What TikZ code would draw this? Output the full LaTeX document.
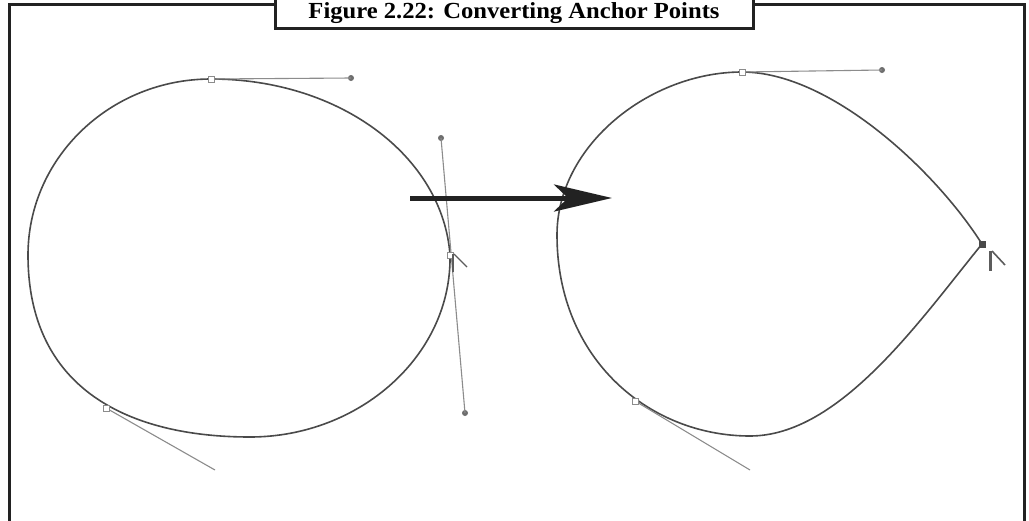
\documentclass[tikz,border=0pt]{standalone}
\usepackage{fontspec}
\setmainfont{Liberation Serif}
\newfontfamily\titlefont[FakeStretch=1.07]{Liberation Serif}
\usetikzlibrary{arrows.meta}
\definecolor{framec}{HTML}{222222}
\definecolor{curvec}{HTML}{4A4A4A}
\definecolor{handlec}{HTML}{8C8C8C}
\tikzset{
  framebox/.style={draw=framec, line width=3pt},
  curve/.style={draw=curvec, line width=1.6pt},
  handle/.style={draw=handlec, line width=1.1pt},
  anchorpt/.style={draw=handlec, fill=white, line width=0.9pt, minimum size=6pt, inner sep=0pt, rectangle},
  cornerpt/.style={draw=curvec, fill=curvec, minimum size=6pt, inner sep=0pt, rectangle},
  handledot/.style={fill=curvec!80, circle, minimum size=6pt, inner sep=0pt},
  cursor/.style={draw=curvec!90, line width=1.8pt},
  bigarrow/.style={draw=framec, line width=5pt, -{Stealth[length=58pt, width=27pt, inset=14pt]}}
}
\begin{document}
\begin{tikzpicture}[x=1pt, y=-1pt]
\clip (0,0) rectangle (1029,520);
\fill[white] (0,0) rectangle (1029,520);
% frame
\draw[framebox] (9,4) rectangle (1024,540);
\draw[framebox, fill=white] (275,-20) rectangle (753,28);
\node[font=\titlefont\bfseries\fontsize{23}{25}\selectfont, anchor=base, inner sep=0pt] (title) at (514,18.5) {Figure 2.22: Converting Anchor Points};

% left circle
\draw[curve] (28,255) .. controls (28,158) and (110,79) .. (211,79)
  .. controls (342,79) and (443,158) .. (450,255)
  .. controls (452,355) and (360,437) .. (250,437)
  .. controls (130,437) and (28,390) .. cycle;
% left anchors and handles
\node[handledot] (h1) at (351,78) {};
\node[handledot] (h2a) at (441,138) {};
\node[handledot] (h2b) at (465,413) {};
\coordinate (h3) at (215,470);
\draw[handle] (211,79) -- (h1.center);
\draw[handle] (h2a.center) -- (h2b.center);
\draw[handle] (106,408) -- (h3);
\node[anchorpt] (a1) at (211,79) {};
\node[anchorpt] (a2) at (450,255) {};
\node[anchorpt] (a3) at (106,408) {};
\draw[cursor] (453,254) -- (453,272);
\draw[cursor, line width=1.3pt] (454,254) -- (467,267);

% right teardrop
\draw[curve] (557,235) .. controls (557,145) and (650,72) .. (742,72)
  .. controls (830,72) and (935,170) .. (982,244)
  .. controls (920,320) and (840,436) .. (750,436)
  .. controls (650,436) and (557,360) .. cycle;
\node[handledot] (h4) at (882,70) {};
\coordinate (h5) at (750,470);
\draw[handle] (742,72) -- (h4.center);
\draw[handle] (635,401) -- (h5);
\node[anchorpt] (a4) at (742,72) {};
\node[anchorpt] (a5) at (635,401) {};
\node[cornerpt] (c1) at (982,244) {};
\draw[cursor, line width=3pt] (990,251) -- (990,271);
\draw[cursor, line width=1.6pt] (992,251) -- (1005,265);

% arrow
\coordinate (arrS) at (410,198);
\coordinate (arrE) at (612,198);
\draw[bigarrow] (arrS) -- (arrE);
\end{tikzpicture}
\end{document}
